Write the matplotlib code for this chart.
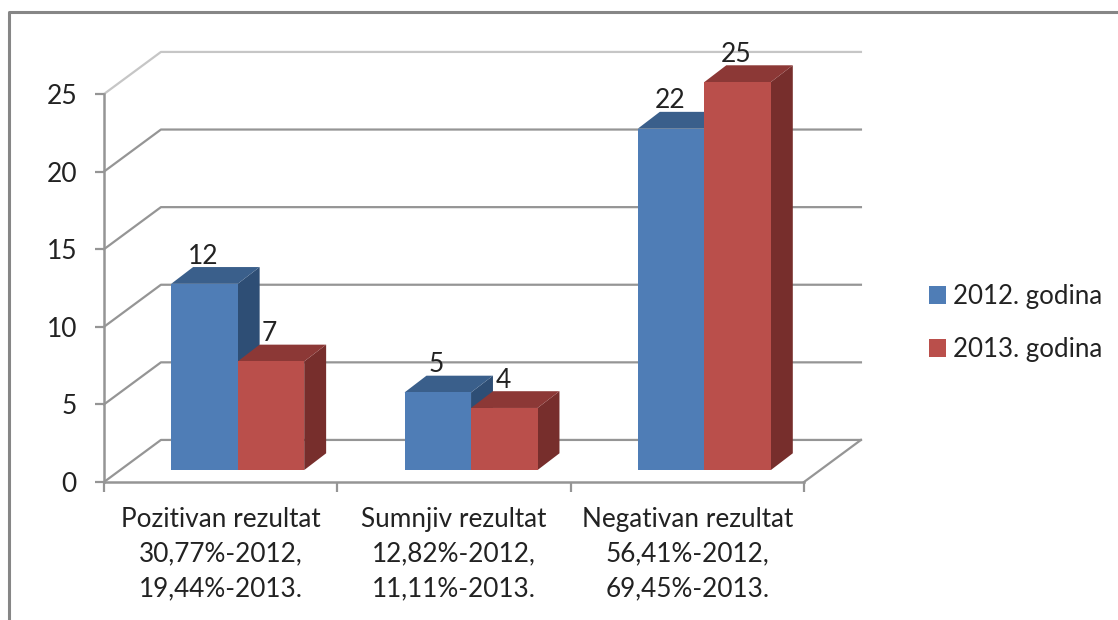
import matplotlib
matplotlib.use('Agg')
import matplotlib.pyplot as plt
from matplotlib.lines import Line2D
from matplotlib.patches import Patch

plt.rcParams['font.family'] = ['Lato', 'DejaVu Sans']

categories = ['Pozitivan rezultat\n30,77%-2012,\n19,44%-2013.',
              'Sumnjiv rezultat\n12,82%-2012,\n11,11%-2013.',
              'Negativan rezultat\n56,41%-2012,\n69,45%-2013.']
series_names = ['2012. godina', '2013. godina']
values_2012 = [12, 5, 22]
values_2013 = [7, 4, 25]
y_ticks = [0, 5, 10, 15, 20, 25]

W, H = 1118, 620
GREY = '#959595'
TEXT = '#222222'

# depth of the fake 3d box, in data units
WALL_DX = 0.244
WALL_DY = 2.71
BAR_DX = 0.094
BAR_DY = 1.08
BAR_FLOOR = 0.77
BAR_START = 0.288
BAR_W = 0.285

fig = plt.figure(figsize=(W / 100, H / 100), dpi=100, facecolor='white')
ax = fig.add_axes([104 / W, 1 - 482 / H, 700 / W, 388 / H])
ax.set_xlim(0, 3)
ax.set_ylim(0, 25)
ax.patch.set_visible(False)


def draw_bars(values, offset, front, top, side):
    for i, v in enumerate(values):
        x0 = i + BAR_START + offset * BAR_W
        x1 = x0 + BAR_W
        y0 = BAR_FLOOR
        y1 = BAR_FLOOR + v
        ax.fill([x1, x1 + BAR_DX, x1 + BAR_DX, x1],
                [y0, y0 + BAR_DY, y1 + BAR_DY, y1], color=side, lw=0, zorder=4, clip_on=False)
        ax.fill([x0, x1, x1 + BAR_DX, x0 + BAR_DX],
                [y1, y1, y1 + BAR_DY, y1 + BAR_DY], color=top, lw=0, zorder=4, clip_on=False)
        ax.bar(x0, v, BAR_W, bottom=y0, align='edge', color=front, lw=0, zorder=4, clip_on=False)
        ax.annotate(str(v), (x0 + BAR_W / 2, y1), xytext=(-1, 20), textcoords='offset points',
                    ha='center', va='center', fontsize=19, color=TEXT, zorder=3, annotation_clip=False)


# gridlines with their slanted part on the left wall
for t in y_ticks:
    c = '#c6c6c6' if t == 25 else GREY
    ax.plot([0, WALL_DX, 3 + WALL_DX], [t, t + WALL_DY, t + WALL_DY], color=c, lw=1.6, zorder=1, clip_on=False)
ax.plot([3, 3 + WALL_DX], [0, WALL_DY], color=GREY, lw=1.6, zorder=1, clip_on=False)

draw_bars(values_2012, 0, '#4F7DB6', '#3A5F8B', '#2E4E75')
draw_bars(values_2013, 1, '#BA4F4B', '#8C3836', '#772E2C')

for s in ['top', 'right']:
    ax.spines[s].set_visible(False)
for s in ['left', 'bottom']:
    ax.spines[s].set_color(GREY)
    ax.spines[s].set_linewidth(1.8)
    ax.spines[s].set_zorder(2)

ax.set_yticks(y_ticks)
ax.tick_params(axis='y', length=6.5, width=1.6, color=GREY, pad=13, labelsize=19, labelcolor=TEXT)
ax.set_xticks([0, 1, 2, 3])
ax.set_xticklabels([])
ax.tick_params(axis='x', which='major', length=7.5, width=1.6, color=GREY)
ax.set_xticks([0.5, 1.5, 2.5], minor=True)
ax.set_xticklabels(categories, minor=True, fontsize=18.8, color=TEXT, linespacing=1.48)
ax.tick_params(axis='x', which='minor', length=0, pad=18)

handles = [Patch(facecolor='#4F7DB6', lw=0), Patch(facecolor='#BA4F4B', lw=0)]
fig.legend(handles, series_names, loc='center left', bbox_to_anchor=(906 / W, 1 - 323 / H), frameon=False,
           fontsize=18.6, handlelength=0.66, handleheight=0.66, handletextpad=0.25, labelspacing=1.08,
           labelcolor=TEXT)

# frame of the pasted chart, runs off the right and bottom of the picture
fig.add_artist(Line2D([9 / W, 9 / W, 1], [0, 1 - 12 / H, 1 - 12 / H], color='#868686', lw=2.2))

fig.savefig('out.png', dpi=100)
